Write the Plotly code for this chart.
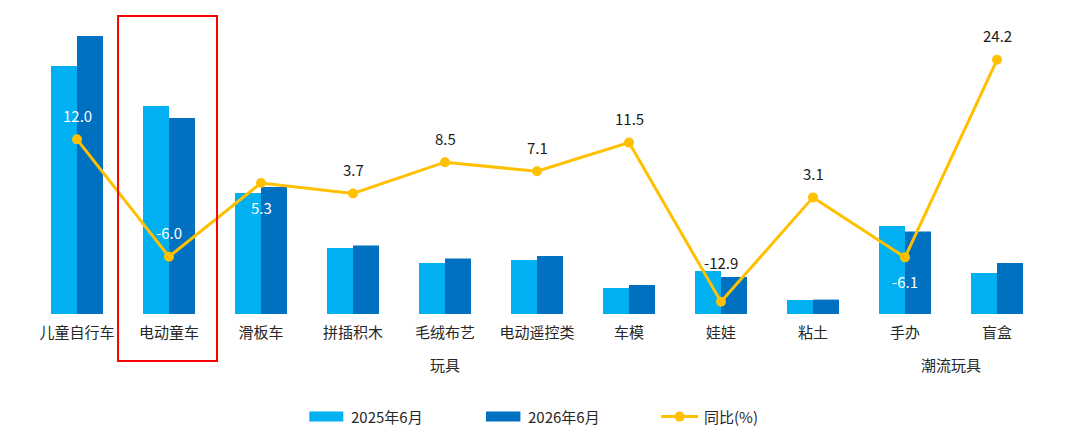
import plotly.graph_objects as go

categories = ["儿童自行车", "电动童车", "滑板车", "拼插积木", "毛绒布艺", "电动遥控类",
              "车模", "娃娃", "粘土", "手办", "盲盒"]
sales_2025 = [248, 208, 121, 66, 51, 54, 26, 43, 14, 88, 41]
sales_2026 = [278, 196, 127, 68.5, 55.5, 58, 29, 37, 14.4, 82.5, 51]
yoy = [12.0, -6.0, 5.3, 3.7, 8.5, 7.1, 11.5, -12.9, 3.1, -6.1, 24.2]
# label offset in px (positive = above point) and colour
label_shift = [24, 24, -24, 24, 24, 24, 24, 39, 24, -24, 24]
label_color = ["white", "white", "white", "#1a1a1a", "#1a1a1a", "#1a1a1a",
               "#1a1a1a", "#1a1a1a", "#1a1a1a", "white", "#1a1a1a"]
group_labels = [("玩具", 4), ("潮流玩具", 9.5)]
legend_names = ["2025年6月", "2026年6月", "同比(%)"]

C_LIGHT = "#00B0F0"
C_DARK = "#0070C0"
C_LINE = "#FFC000"
FONT = "Noto Sans CJK SC"
TXT = "#262626"

fig = go.Figure()
fig.add_trace(go.Bar(x=categories, y=sales_2025, name=legend_names[0],
                     marker=dict(color=C_LIGHT, line=dict(width=0))))
fig.add_trace(go.Bar(x=categories, y=sales_2026, name=legend_names[1],
                     marker=dict(color=C_DARK, line=dict(width=0))))
fig.add_trace(go.Scatter(x=categories, y=yoy, name=legend_names[2], yaxis="y2",
                         mode="lines+markers",
                         line=dict(color=C_LINE, width=3),
                         marker=dict(color=C_LINE, size=10)))

annotations = []
for c, v, s, col in zip(categories, yoy, label_shift, label_color):
    annotations.append(dict(x=c, y=v, xref="x", yref="y2", text=f"{v:.1f}",
                            showarrow=False, yshift=s,
                            font=dict(family=FONT, size=15, color=col)))
for txt, pos in group_labels:
    annotations.append(dict(x=pos, y=-0.173, xref="x", yref="paper", text=txt,
                            showarrow=False, yanchor="middle",
                            font=dict(family=FONT, size=15, color=TXT)))

# custom legend
shapes = []
shapes.append(dict(type="rect", xref="paper", yref="paper", x0=0.275, x1=0.3086,
                   y0=-0.366, y1=-0.332, fillcolor=C_LIGHT, line=dict(width=0)))
shapes.append(dict(type="rect", xref="paper", yref="paper", x0=0.4496, x1=0.4836,
                   y0=-0.366, y1=-0.332, fillcolor=C_DARK, line=dict(width=0)))
shapes.append(dict(type="line", xref="paper", yref="paper", x0=0.6228, x1=0.6591,
                   y0=-0.349, y1=-0.349, line=dict(color=C_LINE, width=3)))
shapes.append(dict(type="circle", xref="paper", yref="paper", x0=0.6409 - 0.0049,
                   x1=0.6409 + 0.0049, y0=-0.349 - 0.017, y1=-0.349 + 0.017,
                   fillcolor=C_LINE, line=dict(width=0)))
for txt, xp in zip(legend_names, [0.3145, 0.4891, 0.6633]):
    annotations.append(dict(x=xp, y=-0.349, xref="paper", yref="paper", text=txt,
                            showarrow=False, xanchor="left", yanchor="middle",
                            font=dict(family=FONT, size=15, color=TXT)))

# highlight box around 电动童车
shapes.append(dict(type="rect", xref="x", yref="paper", x0=0.446, x1=1.522,
                   y0=-0.16, y1=1.0136, line=dict(color="#FF0000", width=2),
                   fillcolor="rgba(0,0,0,0)"))

fig.update_layout(
    width=1072, height=435,
    margin=dict(l=23, r=37, t=12, b=129, autoexpand=False),
    paper_bgcolor="white", plot_bgcolor="white",
    barmode="group", bargap=0.435, bargroupgap=0,
    showlegend=False,
    font=dict(family=FONT, size=15, color=TXT),
    xaxis=dict(range=[-0.5, 10.5], showline=False, showgrid=False, zeroline=False,
               ticks="", tickfont=dict(family=FONT, size=15, color=TXT),
               ticklabelstandoff=8),
    yaxis=dict(range=[0, 294], visible=False, showgrid=False, zeroline=False),
    yaxis2=dict(range=[-14.79, 30.31], overlaying="y", side="right",
                visible=False, showgrid=False, zeroline=False),
    annotations=annotations,
    shapes=shapes,
)

fig.write_html("out.html")
